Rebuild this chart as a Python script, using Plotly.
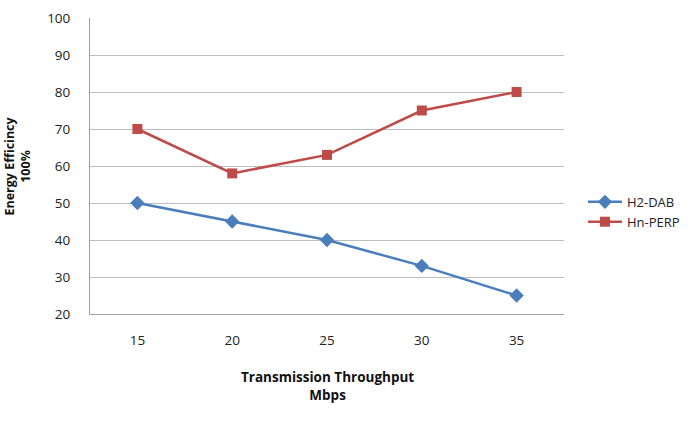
import plotly.graph_objects as go

categories = ["15", "20", "25", "30", "35"]
h2_dab = [50, 45, 40, 33, 25]
hn_perp = [70, 58, 63, 75, 80]
y_ticks = [20, 30, 40, 50, 60, 70, 80, 90, 100]

FONT = "Open Sans, Noto Sans, sans-serif"

fig = go.Figure()
fig.add_trace(go.Scatter(
    x=categories, y=h2_dab, name="H2-DAB", mode="lines+markers",
    line=dict(color="#4A7EBB", width=2.5),
    marker=dict(symbol="diamond", size=11, color="#4A7EBB"),
))
fig.add_trace(go.Scatter(
    x=categories, y=hn_perp, name="Hn-PERP", mode="lines+markers",
    line=dict(color="#BE4B48", width=2.5),
    marker=dict(symbol="square", size=10, color="#BE4B48"),
))

fig.update_layout(
    width=691, height=426,
    margin=dict(l=90, r=127, t=18, b=112, autoexpand=False),
    paper_bgcolor="white", plot_bgcolor="white",
    font=dict(family=FONT, size=13, color="#222"),
    showlegend=True,
    legend=dict(x=1.04, y=0.345, xanchor="left", yanchor="middle",
                font=dict(size=13, color="#222"), tracegroupgap=10,
                itemwidth=34),
    xaxis=dict(type="category", range=[-0.5, 4.5], showgrid=False,
               showline=True, linecolor="#A0A0A0", linewidth=1,
               ticks="", ticklabelstandoff=14, tickfont=dict(size=13.5)),
    yaxis=dict(range=[20, 100], tickvals=y_ticks, showgrid=True,
               gridcolor="#BDBDBD", gridwidth=1,
               showline=True, linecolor="#A0A0A0", linewidth=1,
               ticks="", ticklabelstandoff=16, zeroline=False,
               tickfont=dict(size=13.5)),
    annotations=[
        dict(text="<b>Transmission Throughput</b><br><b>Mbps</b>",
             xref="paper", yref="paper", x=0.5, y=-0.175, xanchor="center",
             yanchor="top", showarrow=False, font=dict(size=13.5, color="#111")),
        dict(text="<b>Energy Efficincy</b><br><b>100%</b>",
             xref="paper", yref="paper", x=-0.155, y=0.5, xanchor="center",
             yanchor="middle", textangle=-90, showarrow=False,
             font=dict(size=12.5, color="#111")),
    ],
)

fig.write_html("out.html")
